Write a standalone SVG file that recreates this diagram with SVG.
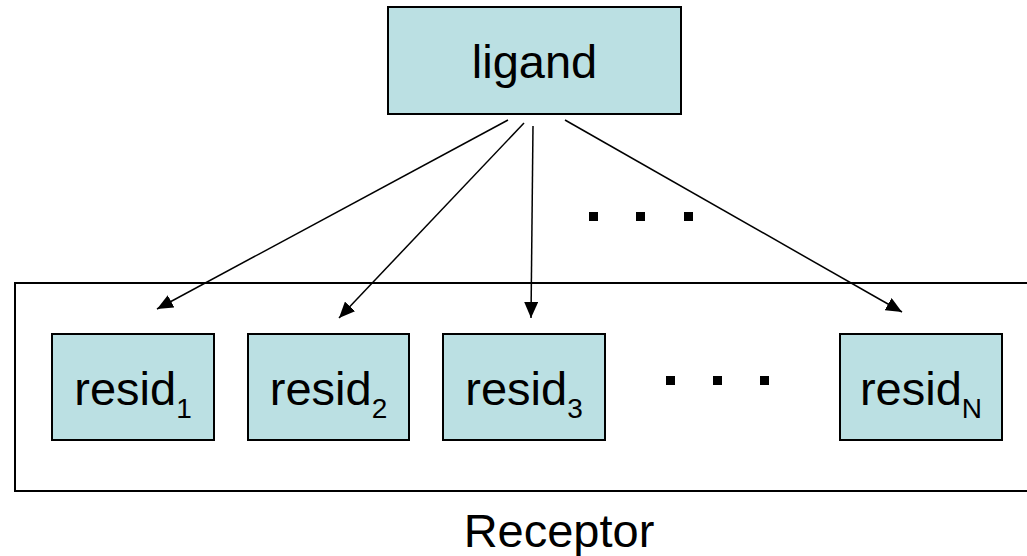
<svg xmlns="http://www.w3.org/2000/svg" width="1027" height="556" viewBox="0 0 1027 556">
<style>
.box{fill:#bbe0e3;stroke:#000;stroke-width:2}
.txt{font-family:"Liberation Sans",Arial,sans-serif;font-size:47px;fill:#000;text-anchor:middle}
.sub{font-size:28px}
.edge{stroke:#000;stroke-width:1.5;fill:none;marker-end:url(#ah)}
.dot{fill:#000}
</style>
<defs>
<marker id="ah" markerUnits="userSpaceOnUse" markerWidth="18" markerHeight="14" refX="16" refY="7" orient="auto">
<path d="M0,0 L16,7 L0,14 Z" fill="#000"/>
</marker>
</defs>
<g id="receptor">
<rect x="15" y="283" width="1030" height="208" fill="none" stroke="#000" stroke-width="2"/>
<text class="txt" x="559" y="547" font-size="46">Receptor</text>
</g>
<g id="ligand">
<rect class="box" x="388" y="7" width="293" height="107"/>
<text class="txt" x="534.5" y="78">ligand</text>
</g>
<g id="resid1">
<rect class="box" x="52" y="334" width="162" height="106"/>
<text class="txt" x="133" y="405">resid<tspan class="sub" dy="13">1</tspan></text>
</g>
<g id="resid2">
<rect class="box" x="248" y="334" width="161" height="106"/>
<text class="txt" x="328.5" y="405">resid<tspan class="sub" dy="13">2</tspan></text>
</g>
<g id="resid3">
<rect class="box" x="443" y="334" width="162" height="106"/>
<text class="txt" x="524" y="405">resid<tspan class="sub" dy="13">3</tspan></text>
</g>
<g id="residN">
<rect class="box" x="840" y="334" width="162" height="106"/>
<text class="txt" x="921" y="405">resid<tspan class="sub" dy="13">N</tspan></text>
</g>
<g id="dots">
<rect class="dot" x="589" y="212" width="9" height="9"/>
<rect class="dot" x="636" y="212" width="9" height="9"/>
<rect class="dot" x="684" y="212" width="9" height="9"/>
<rect class="dot" x="666" y="376" width="9" height="9"/>
<rect class="dot" x="713" y="376" width="9" height="9"/>
<rect class="dot" x="760" y="376" width="9" height="9"/>
</g>
<g id="connectors">
<line class="edge" x1="508" y1="120" x2="157" y2="309"/>
<line class="edge" x1="524" y1="123" x2="339" y2="318"/>
<line class="edge" x1="533" y1="126" x2="531" y2="318"/>
<line class="edge" x1="565" y1="120" x2="902" y2="312"/>
</g>
</svg>
